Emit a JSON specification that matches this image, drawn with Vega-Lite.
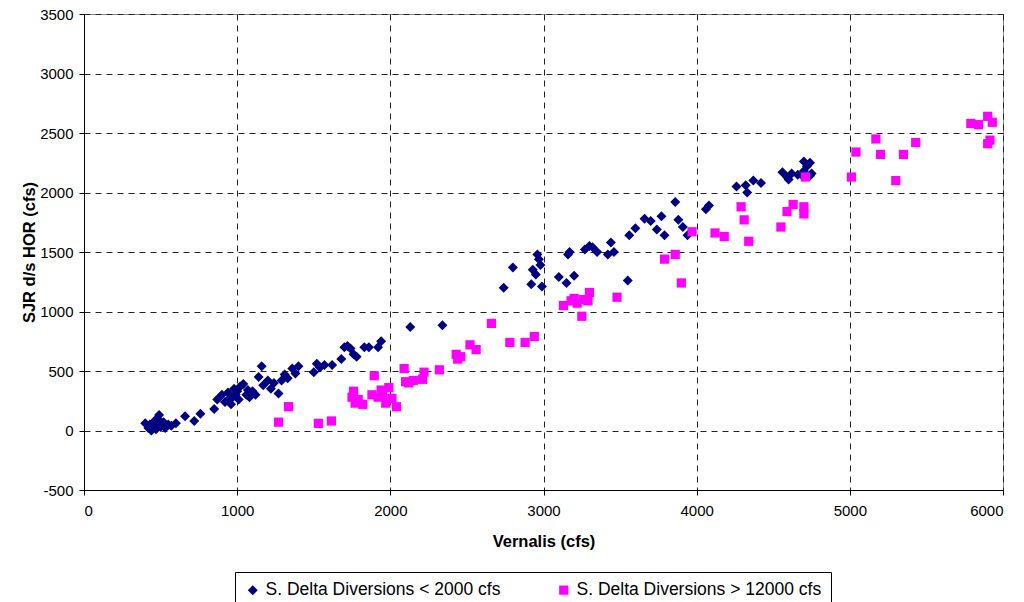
{
  "$schema": "https://vega.github.io/schema/vega-lite/v6.json",
  "width": 919,
  "height": 476,
  "autosize": {"type": "none"},
  "padding": {"left": 84, "top": 14, "right": 21, "bottom": 112},
  "background": "white",
  "config": {
    "font": "Liberation Sans",
    "view": {"stroke": "#888888", "strokeWidth": 1},
    "axis": {
      "domainColor": "black",
      "tickColor": "black",
      "gridColor": "#222222",
      "gridDash": [6, 5],
      "gridWidth": 1,
      "labelFont": "Liberation Sans",
      "labelFontSize": 15,
      "labelColor": "black",
      "titleFont": "Liberation Sans",
      "titleFontSize": 16.5,
      "titleFontWeight": "bold",
      "titleColor": "black",
      "tickSize": 5
    }
  },
  "data": {
    "values": [
      {"x": 400, "y": 60, "s": "S. Delta Diversions < 2000 cfs"},
      {"x": 420, "y": 20, "s": "S. Delta Diversions < 2000 cfs"},
      {"x": 430, "y": 50, "s": "S. Delta Diversions < 2000 cfs"},
      {"x": 440, "y": 0, "s": "S. Delta Diversions < 2000 cfs"},
      {"x": 450, "y": 40, "s": "S. Delta Diversions < 2000 cfs"},
      {"x": 460, "y": 80, "s": "S. Delta Diversions < 2000 cfs"},
      {"x": 470, "y": 10, "s": "S. Delta Diversions < 2000 cfs"},
      {"x": 470, "y": 50, "s": "S. Delta Diversions < 2000 cfs"},
      {"x": 480, "y": 100, "s": "S. Delta Diversions < 2000 cfs"},
      {"x": 490, "y": 130, "s": "S. Delta Diversions < 2000 cfs"},
      {"x": 500, "y": 30, "s": "S. Delta Diversions < 2000 cfs"},
      {"x": 510, "y": 60, "s": "S. Delta Diversions < 2000 cfs"},
      {"x": 520, "y": 70, "s": "S. Delta Diversions < 2000 cfs"},
      {"x": 530, "y": 20, "s": "S. Delta Diversions < 2000 cfs"},
      {"x": 550, "y": 50, "s": "S. Delta Diversions < 2000 cfs"},
      {"x": 570, "y": 40, "s": "S. Delta Diversions < 2000 cfs"},
      {"x": 600, "y": 60, "s": "S. Delta Diversions < 2000 cfs"},
      {"x": 660, "y": 120, "s": "S. Delta Diversions < 2000 cfs"},
      {"x": 720, "y": 80, "s": "S. Delta Diversions < 2000 cfs"},
      {"x": 760, "y": 140, "s": "S. Delta Diversions < 2000 cfs"},
      {"x": 850, "y": 180, "s": "S. Delta Diversions < 2000 cfs"},
      {"x": 870, "y": 260, "s": "S. Delta Diversions < 2000 cfs"},
      {"x": 900, "y": 300, "s": "S. Delta Diversions < 2000 cfs"},
      {"x": 920, "y": 240, "s": "S. Delta Diversions < 2000 cfs"},
      {"x": 940, "y": 320, "s": "S. Delta Diversions < 2000 cfs"},
      {"x": 950, "y": 270, "s": "S. Delta Diversions < 2000 cfs"},
      {"x": 960, "y": 220, "s": "S. Delta Diversions < 2000 cfs"},
      {"x": 970, "y": 280, "s": "S. Delta Diversions < 2000 cfs"},
      {"x": 980, "y": 350, "s": "S. Delta Diversions < 2000 cfs"},
      {"x": 990, "y": 300, "s": "S. Delta Diversions < 2000 cfs"},
      {"x": 1000, "y": 330, "s": "S. Delta Diversions < 2000 cfs"},
      {"x": 1010, "y": 260, "s": "S. Delta Diversions < 2000 cfs"},
      {"x": 1020, "y": 370, "s": "S. Delta Diversions < 2000 cfs"},
      {"x": 1040, "y": 390, "s": "S. Delta Diversions < 2000 cfs"},
      {"x": 1060, "y": 300, "s": "S. Delta Diversions < 2000 cfs"},
      {"x": 1070, "y": 340, "s": "S. Delta Diversions < 2000 cfs"},
      {"x": 1080, "y": 280, "s": "S. Delta Diversions < 2000 cfs"},
      {"x": 1100, "y": 330, "s": "S. Delta Diversions < 2000 cfs"},
      {"x": 1120, "y": 300, "s": "S. Delta Diversions < 2000 cfs"},
      {"x": 1140, "y": 450, "s": "S. Delta Diversions < 2000 cfs"},
      {"x": 1160, "y": 540, "s": "S. Delta Diversions < 2000 cfs"},
      {"x": 1170, "y": 380, "s": "S. Delta Diversions < 2000 cfs"},
      {"x": 1200, "y": 420, "s": "S. Delta Diversions < 2000 cfs"},
      {"x": 1220, "y": 350, "s": "S. Delta Diversions < 2000 cfs"},
      {"x": 1240, "y": 400, "s": "S. Delta Diversions < 2000 cfs"},
      {"x": 1270, "y": 310, "s": "S. Delta Diversions < 2000 cfs"},
      {"x": 1290, "y": 420, "s": "S. Delta Diversions < 2000 cfs"},
      {"x": 1310, "y": 470, "s": "S. Delta Diversions < 2000 cfs"},
      {"x": 1330, "y": 440, "s": "S. Delta Diversions < 2000 cfs"},
      {"x": 1360, "y": 520, "s": "S. Delta Diversions < 2000 cfs"},
      {"x": 1380, "y": 480, "s": "S. Delta Diversions < 2000 cfs"},
      {"x": 1400, "y": 540, "s": "S. Delta Diversions < 2000 cfs"},
      {"x": 1500, "y": 490, "s": "S. Delta Diversions < 2000 cfs"},
      {"x": 1520, "y": 560, "s": "S. Delta Diversions < 2000 cfs"},
      {"x": 1540, "y": 530, "s": "S. Delta Diversions < 2000 cfs"},
      {"x": 1570, "y": 550, "s": "S. Delta Diversions < 2000 cfs"},
      {"x": 1620, "y": 550, "s": "S. Delta Diversions < 2000 cfs"},
      {"x": 1680, "y": 600, "s": "S. Delta Diversions < 2000 cfs"},
      {"x": 1700, "y": 700, "s": "S. Delta Diversions < 2000 cfs"},
      {"x": 1720, "y": 710, "s": "S. Delta Diversions < 2000 cfs"},
      {"x": 1740, "y": 690, "s": "S. Delta Diversions < 2000 cfs"},
      {"x": 1760, "y": 640, "s": "S. Delta Diversions < 2000 cfs"},
      {"x": 1780, "y": 620, "s": "S. Delta Diversions < 2000 cfs"},
      {"x": 1830, "y": 700, "s": "S. Delta Diversions < 2000 cfs"},
      {"x": 1860, "y": 700, "s": "S. Delta Diversions < 2000 cfs"},
      {"x": 1920, "y": 700, "s": "S. Delta Diversions < 2000 cfs"},
      {"x": 1940, "y": 750, "s": "S. Delta Diversions < 2000 cfs"},
      {"x": 2130, "y": 870, "s": "S. Delta Diversions < 2000 cfs"},
      {"x": 2340, "y": 885, "s": "S. Delta Diversions < 2000 cfs"},
      {"x": 2740, "y": 1200, "s": "S. Delta Diversions < 2000 cfs"},
      {"x": 2800, "y": 1370, "s": "S. Delta Diversions < 2000 cfs"},
      {"x": 2920, "y": 1230, "s": "S. Delta Diversions < 2000 cfs"},
      {"x": 2930, "y": 1350, "s": "S. Delta Diversions < 2000 cfs"},
      {"x": 2950, "y": 1310, "s": "S. Delta Diversions < 2000 cfs"},
      {"x": 2960, "y": 1480, "s": "S. Delta Diversions < 2000 cfs"},
      {"x": 2970, "y": 1440, "s": "S. Delta Diversions < 2000 cfs"},
      {"x": 2980, "y": 1390, "s": "S. Delta Diversions < 2000 cfs"},
      {"x": 2990, "y": 1210, "s": "S. Delta Diversions < 2000 cfs"},
      {"x": 3100, "y": 1290, "s": "S. Delta Diversions < 2000 cfs"},
      {"x": 3150, "y": 1240, "s": "S. Delta Diversions < 2000 cfs"},
      {"x": 3160, "y": 1480, "s": "S. Delta Diversions < 2000 cfs"},
      {"x": 3170, "y": 1500, "s": "S. Delta Diversions < 2000 cfs"},
      {"x": 3200, "y": 1300, "s": "S. Delta Diversions < 2000 cfs"},
      {"x": 3270, "y": 1520, "s": "S. Delta Diversions < 2000 cfs"},
      {"x": 3300, "y": 1550, "s": "S. Delta Diversions < 2000 cfs"},
      {"x": 3320, "y": 1540, "s": "S. Delta Diversions < 2000 cfs"},
      {"x": 3350, "y": 1500, "s": "S. Delta Diversions < 2000 cfs"},
      {"x": 3420, "y": 1480, "s": "S. Delta Diversions < 2000 cfs"},
      {"x": 3440, "y": 1580, "s": "S. Delta Diversions < 2000 cfs"},
      {"x": 3460, "y": 1500, "s": "S. Delta Diversions < 2000 cfs"},
      {"x": 3550, "y": 1260, "s": "S. Delta Diversions < 2000 cfs"},
      {"x": 3560, "y": 1640, "s": "S. Delta Diversions < 2000 cfs"},
      {"x": 3600, "y": 1700, "s": "S. Delta Diversions < 2000 cfs"},
      {"x": 3660, "y": 1780, "s": "S. Delta Diversions < 2000 cfs"},
      {"x": 3700, "y": 1760, "s": "S. Delta Diversions < 2000 cfs"},
      {"x": 3740, "y": 1690, "s": "S. Delta Diversions < 2000 cfs"},
      {"x": 3770, "y": 1800, "s": "S. Delta Diversions < 2000 cfs"},
      {"x": 3790, "y": 1640, "s": "S. Delta Diversions < 2000 cfs"},
      {"x": 3860, "y": 1920, "s": "S. Delta Diversions < 2000 cfs"},
      {"x": 3880, "y": 1770, "s": "S. Delta Diversions < 2000 cfs"},
      {"x": 3910, "y": 1710, "s": "S. Delta Diversions < 2000 cfs"},
      {"x": 3940, "y": 1640, "s": "S. Delta Diversions < 2000 cfs"},
      {"x": 4060, "y": 1860, "s": "S. Delta Diversions < 2000 cfs"},
      {"x": 4080, "y": 1890, "s": "S. Delta Diversions < 2000 cfs"},
      {"x": 4260, "y": 2050, "s": "S. Delta Diversions < 2000 cfs"},
      {"x": 4320, "y": 2060, "s": "S. Delta Diversions < 2000 cfs"},
      {"x": 4330, "y": 2000, "s": "S. Delta Diversions < 2000 cfs"},
      {"x": 4370, "y": 2100, "s": "S. Delta Diversions < 2000 cfs"},
      {"x": 4420, "y": 2080, "s": "S. Delta Diversions < 2000 cfs"},
      {"x": 4560, "y": 2170, "s": "S. Delta Diversions < 2000 cfs"},
      {"x": 4590, "y": 2130, "s": "S. Delta Diversions < 2000 cfs"},
      {"x": 4600, "y": 2110, "s": "S. Delta Diversions < 2000 cfs"},
      {"x": 4620, "y": 2160, "s": "S. Delta Diversions < 2000 cfs"},
      {"x": 4660, "y": 2150, "s": "S. Delta Diversions < 2000 cfs"},
      {"x": 4700, "y": 2260, "s": "S. Delta Diversions < 2000 cfs"},
      {"x": 4720, "y": 2220, "s": "S. Delta Diversions < 2000 cfs"},
      {"x": 4740, "y": 2250, "s": "S. Delta Diversions < 2000 cfs"},
      {"x": 4700, "y": 2180, "s": "S. Delta Diversions < 2000 cfs"},
      {"x": 4750, "y": 2160, "s": "S. Delta Diversions < 2000 cfs"},
      {"x": 4690, "y": 2140, "s": "S. Delta Diversions < 2000 cfs"},
      {"x": 4740, "y": 2140, "s": "S. Delta Diversions < 2000 cfs"},
      {"x": 1270, "y": 70, "s": "S. Delta Diversions > 12000 cfs"},
      {"x": 1335, "y": 200, "s": "S. Delta Diversions > 12000 cfs"},
      {"x": 1530, "y": 60, "s": "S. Delta Diversions > 12000 cfs"},
      {"x": 1615, "y": 80, "s": "S. Delta Diversions > 12000 cfs"},
      {"x": 1750, "y": 280, "s": "S. Delta Diversions > 12000 cfs"},
      {"x": 1760, "y": 330, "s": "S. Delta Diversions > 12000 cfs"},
      {"x": 1770, "y": 230, "s": "S. Delta Diversions > 12000 cfs"},
      {"x": 1790, "y": 260, "s": "S. Delta Diversions > 12000 cfs"},
      {"x": 1820, "y": 220, "s": "S. Delta Diversions > 12000 cfs"},
      {"x": 1880, "y": 300, "s": "S. Delta Diversions > 12000 cfs"},
      {"x": 1895, "y": 460, "s": "S. Delta Diversions > 12000 cfs"},
      {"x": 1920, "y": 280, "s": "S. Delta Diversions > 12000 cfs"},
      {"x": 1940, "y": 340, "s": "S. Delta Diversions > 12000 cfs"},
      {"x": 1950, "y": 290, "s": "S. Delta Diversions > 12000 cfs"},
      {"x": 1970, "y": 230, "s": "S. Delta Diversions > 12000 cfs"},
      {"x": 1990, "y": 360, "s": "S. Delta Diversions > 12000 cfs"},
      {"x": 2010, "y": 270, "s": "S. Delta Diversions > 12000 cfs"},
      {"x": 2040, "y": 200, "s": "S. Delta Diversions > 12000 cfs"},
      {"x": 2090, "y": 520, "s": "S. Delta Diversions > 12000 cfs"},
      {"x": 2100, "y": 410, "s": "S. Delta Diversions > 12000 cfs"},
      {"x": 2120, "y": 400, "s": "S. Delta Diversions > 12000 cfs"},
      {"x": 2150, "y": 420, "s": "S. Delta Diversions > 12000 cfs"},
      {"x": 2210, "y": 430, "s": "S. Delta Diversions > 12000 cfs"},
      {"x": 2220, "y": 490, "s": "S. Delta Diversions > 12000 cfs"},
      {"x": 2320, "y": 510, "s": "S. Delta Diversions > 12000 cfs"},
      {"x": 2430, "y": 640, "s": "S. Delta Diversions > 12000 cfs"},
      {"x": 2440, "y": 600, "s": "S. Delta Diversions > 12000 cfs"},
      {"x": 2460, "y": 620, "s": "S. Delta Diversions > 12000 cfs"},
      {"x": 2520, "y": 720, "s": "S. Delta Diversions > 12000 cfs"},
      {"x": 2560, "y": 680, "s": "S. Delta Diversions > 12000 cfs"},
      {"x": 2660, "y": 900, "s": "S. Delta Diversions > 12000 cfs"},
      {"x": 2780, "y": 740, "s": "S. Delta Diversions > 12000 cfs"},
      {"x": 2880, "y": 740, "s": "S. Delta Diversions > 12000 cfs"},
      {"x": 2940, "y": 790, "s": "S. Delta Diversions > 12000 cfs"},
      {"x": 3130, "y": 1050, "s": "S. Delta Diversions > 12000 cfs"},
      {"x": 3180, "y": 1090, "s": "S. Delta Diversions > 12000 cfs"},
      {"x": 3200, "y": 1110, "s": "S. Delta Diversions > 12000 cfs"},
      {"x": 3220, "y": 1070, "s": "S. Delta Diversions > 12000 cfs"},
      {"x": 3250, "y": 960, "s": "S. Delta Diversions > 12000 cfs"},
      {"x": 3260, "y": 1100, "s": "S. Delta Diversions > 12000 cfs"},
      {"x": 3290, "y": 1090, "s": "S. Delta Diversions > 12000 cfs"},
      {"x": 3300, "y": 1160, "s": "S. Delta Diversions > 12000 cfs"},
      {"x": 3480, "y": 1120, "s": "S. Delta Diversions > 12000 cfs"},
      {"x": 3790, "y": 1440, "s": "S. Delta Diversions > 12000 cfs"},
      {"x": 3860, "y": 1480, "s": "S. Delta Diversions > 12000 cfs"},
      {"x": 3900, "y": 1240, "s": "S. Delta Diversions > 12000 cfs"},
      {"x": 3970, "y": 1670, "s": "S. Delta Diversions > 12000 cfs"},
      {"x": 4120, "y": 1660, "s": "S. Delta Diversions > 12000 cfs"},
      {"x": 4180, "y": 1630, "s": "S. Delta Diversions > 12000 cfs"},
      {"x": 4290, "y": 1880, "s": "S. Delta Diversions > 12000 cfs"},
      {"x": 4310, "y": 1770, "s": "S. Delta Diversions > 12000 cfs"},
      {"x": 4340, "y": 1590, "s": "S. Delta Diversions > 12000 cfs"},
      {"x": 4550, "y": 1710, "s": "S. Delta Diversions > 12000 cfs"},
      {"x": 4590, "y": 1840, "s": "S. Delta Diversions > 12000 cfs"},
      {"x": 4630, "y": 1900, "s": "S. Delta Diversions > 12000 cfs"},
      {"x": 4700, "y": 1880, "s": "S. Delta Diversions > 12000 cfs"},
      {"x": 4700, "y": 1820, "s": "S. Delta Diversions > 12000 cfs"},
      {"x": 4710, "y": 2130, "s": "S. Delta Diversions > 12000 cfs"},
      {"x": 5010, "y": 2130, "s": "S. Delta Diversions > 12000 cfs"},
      {"x": 5040, "y": 2340, "s": "S. Delta Diversions > 12000 cfs"},
      {"x": 5170, "y": 2450, "s": "S. Delta Diversions > 12000 cfs"},
      {"x": 5200, "y": 2320, "s": "S. Delta Diversions > 12000 cfs"},
      {"x": 5300, "y": 2100, "s": "S. Delta Diversions > 12000 cfs"},
      {"x": 5350, "y": 2320, "s": "S. Delta Diversions > 12000 cfs"},
      {"x": 5430, "y": 2420, "s": "S. Delta Diversions > 12000 cfs"},
      {"x": 5790, "y": 2580, "s": "S. Delta Diversions > 12000 cfs"},
      {"x": 5840, "y": 2570, "s": "S. Delta Diversions > 12000 cfs"},
      {"x": 5900, "y": 2640, "s": "S. Delta Diversions > 12000 cfs"},
      {"x": 5930, "y": 2590, "s": "S. Delta Diversions > 12000 cfs"},
      {"x": 5900, "y": 2410, "s": "S. Delta Diversions > 12000 cfs"},
      {"x": 5915, "y": 2440, "s": "S. Delta Diversions > 12000 cfs"}
    ]
  },
  "mark": {"type": "point", "filled": true, "opacity": 1},
  "encoding": {
    "x": {
      "field": "x", "type": "quantitative",
      "scale": {"domain": [0, 6000], "nice": false, "zero": false},
      "axis": {"values": [0, 1000, 2000, 3000, 4000, 5000, 6000], "title": "Vernalis (cfs)", "labelPadding": 8, "titlePadding": 15, "grid": true, "labelExpr": "'' + datum.value"}
    },
    "y": {
      "field": "y", "type": "quantitative",
      "scale": {"domain": [-500, 3500], "nice": false, "zero": false},
      "axis": {"values": [-500, 0, 500, 1000, 1500, 2000, 2500, 3000, 3500], "title": "SJR d/s HOR (cfs)", "labelPadding": 6, "titlePadding": 2, "grid": true, "labelExpr": "'' + datum.value"}
    },
    "color": {
      "field": "s", "type": "nominal",
      "scale": {"domain": ["S. Delta Diversions < 2000 cfs", "S. Delta Diversions > 12000 cfs"], "range": ["#000080", "#FF00FF"]},
      "legend": {
        "title": null, "orient": "none", "direction": "horizontal", "columns": 2,
        "legendX": 151, "legendY": 558,
        "strokeColor": "black", "fillColor": "white", "padding": 9,
        "labelFont": "Liberation Sans", "labelFontSize": 17.5, "labelColor": "black", "labelLimit": 0,
        "symbolSize": 45, "columnPadding": 54, "labelOffset": 4, "symbolOpacity": 1
      }
    },
    "shape": {
      "field": "s", "type": "nominal",
      "scale": {"domain": ["S. Delta Diversions < 2000 cfs", "S. Delta Diversions > 12000 cfs"], "range": ["diamond", "square"]}
    },
    "size": {
      "field": "s", "type": "nominal",
      "scale": {"domain": ["S. Delta Diversions < 2000 cfs", "S. Delta Diversions > 12000 cfs"], "range": [100, 85]},
      "legend": null
    }
  }
}
